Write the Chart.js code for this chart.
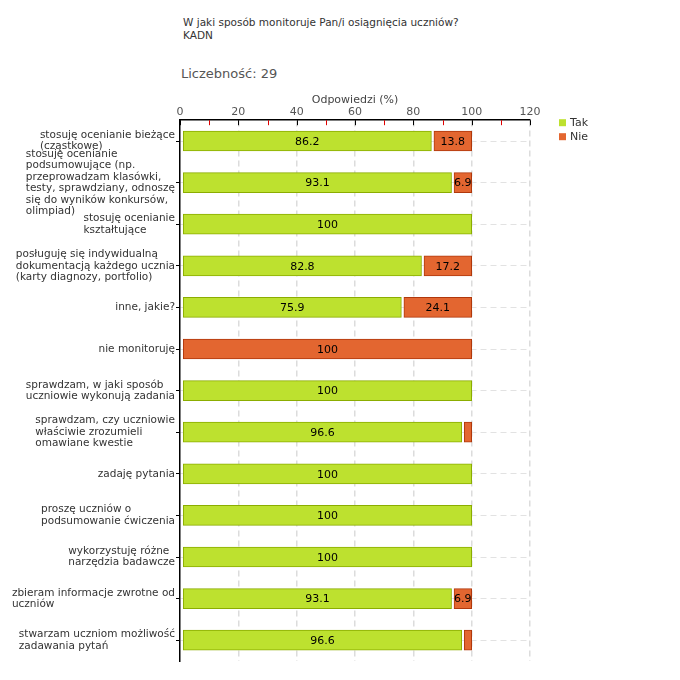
<!DOCTYPE html>
<html lang="pl">
<head>
<meta charset="utf-8">
<title>W jaki sposób monitoruje Pan/i osiągnięcia uczniów?</title>
<script src="https://cdn.jsdelivr.net/npm/chart.js@4/dist/chart.umd.min.js"></script>
<style>
    html, body { margin: 0; padding: 0; background: #fff; }
    #wrap { position: relative; width: 680px; height: 680px; }
    #chart { position: absolute; left: 0; top: 0; }
    .head { position: absolute; left: 183px; font-family: 'DejaVu Sans', sans-serif; color: #333; }
    #title { top: 16px; font-size: 10.5px; line-height: 13px; }
    #count { left: 181px; top: 66px; font-size: 13px; color: #555; }
</style>
</head>
<body>
<div id="wrap">
    <div class="head" id="title">W jaki sposób monitoruje Pan/i osiągnięcia uczniów?<br>KADN</div>
    <div class="head" id="count">Liczebność: 29</div>
    <canvas id="chart" width="680" height="680"></canvas>
</div>
<script>
// --- data ---
const categories = [
    ['stosuję ocenianie bieżące', '(cząstkowe)'],
    ['stosuję ocenianie', 'podsumowujące (np.', 'przeprowadzam klasówki,', 'testy, sprawdziany, odnoszę', 'się do wyników konkursów,', 'olimpiad)'],
    ['stosuję ocenianie', 'kształtujące'],
    ['posługuję się indywidualną', 'dokumentacją każdego ucznia', '(karty diagnozy, portfolio)'],
    ['inne, jakie?'],
    ['nie monitoruję'],
    ['sprawdzam, w jaki sposób', 'uczniowie wykonują zadania'],
    ['sprawdzam, czy uczniowie', 'właściwie zrozumieli', 'omawiane kwestie'],
    ['zadaję pytania'],
    ['proszę uczniów o', 'podsumowanie ćwiczenia'],
    ['wykorzystuję różne', 'narzędzia badawcze'],
    ['zbieram informacje zwrotne od', 'uczniów'],
    ['stwarzam uczniom możliwość', 'zadawania pytań']
];
const takValues = [86.2, 93.1, 100, 82.8, 75.9, 0, 100, 96.6, 100, 100, 100, 93.1, 96.6];
const nieValues = [13.8, 6.9, 0, 17.2, 24.1, 100, 0, 3.4, 0, 0, 0, 6.9, 3.4];
const seriesNames = ['Tak', 'Nie'];
const xTicks = [0, 20, 40, 60, 80, 100, 120];

const FONT = "'DejaVu Sans', sans-serif";

// small gap at the start of every bar, like the original
const barGapPlugin = {
    id: 'barGap',
    afterDatasetsUpdate(chart) {
        chart.data.datasets.forEach((ds, i) => {
            chart.getDatasetMeta(i).data.forEach(el => {
                if (el.x - el.base > 0) el.base += 2.5;
            });
        });
    }
};

// multi-line category labels, left-aligned block placed against the axis
const catLabelPlugin = {
    id: 'catLabels',
    afterDraw(chart) {
        const ctx = chart.ctx;
        const yScale = chart.scales.y;
        const right = yScale.right - 5;
        const lh = 11.5;
        ctx.save();
        ctx.font = '10.5px ' + FONT;
        ctx.fillStyle = '#333';
        ctx.textBaseline = 'middle';
        ctx.textAlign = 'left';
        categories.forEach((lines, i) => {
            const cy = yScale.getPixelForValue(i);
            const w = Math.max(...lines.map(l => ctx.measureText(l).width));
            const x = right - w;
            const y0 = cy - (lines.length - 1) * lh / 2;
            lines.forEach((l, j) => ctx.fillText(l, x, y0 + j * lh));
        });
        ctx.restore();
    }
};

// tick marks on the top axis pointing into the plot (red minor ones)
const xTickPlugin = {
    id: 'xTicks',
    afterDraw(chart) {
        const ctx = chart.ctx;
        const xs = chart.scales.x;
        const top = chart.chartArea.top;
        ctx.save();
        ctx.lineWidth = 1;
        for (let v = xs.min; v <= xs.max; v += 10) {
            const px = Math.round(xs.getPixelForValue(v)) + 0.5;
            ctx.strokeStyle = xTicks.includes(v) ? '#000' : '#e00000';
            ctx.beginPath();
            ctx.moveTo(px, top);
            ctx.lineTo(px, top + 5);
            ctx.stroke();
        }
        ctx.restore();
    }
};

// legend to the right of the plot, top aligned
const legendPlugin = {
    id: 'sideLegend',
    afterDraw(chart) {
        const ctx = chart.ctx;
        const x = chart.chartArea.right + 29;
        const top = chart.chartArea.top + 2;
        ctx.save();
        ctx.font = '11px ' + FONT;
        ctx.textBaseline = 'middle';
        ctx.textAlign = 'left';
        chart.data.datasets.forEach((ds, i) => {
            const cy = top + i * 14;
            ctx.fillStyle = ds.backgroundColor;
            ctx.fillRect(x, cy - 3, 7, 7);
            ctx.fillStyle = '#333';
            ctx.fillText(ds.label, x + 11, cy + 1);
        });
        ctx.restore();
    }
};

// value labels centred in the bars
const valueLabelPlugin = {
    id: 'valueLabels',
    afterDatasetsDraw(chart) {
        const ctx = chart.ctx;
        ctx.save();
        ctx.font = '11px ' + FONT;
        ctx.fillStyle = '#000';
        ctx.textAlign = 'center';
        ctx.textBaseline = 'middle';
        chart.data.datasets.forEach((ds, i) => {
            chart.getDatasetMeta(i).data.forEach((el, j) => {
                const v = ds.data[j];
                if (v < 5) return;
                ctx.fillText(String(v), (el.x + el.base) / 2, el.y + 1);
            });
        });
        ctx.restore();
    }
};

const ctx = document.getElementById('chart').getContext('2d');
new Chart(ctx, {
    type: 'bar',
    data: {
        labels: categories,
        datasets: [{
            label: seriesNames[0],
            data: takValues,
            backgroundColor: '#bde12f',
            borderColor: '#8bad00',
            borderWidth: 1,
            borderSkipped: false,
            barThickness: 20
        }, {
            label: seriesNames[1],
            data: nieValues,
            backgroundColor: '#e36630',
            borderColor: '#b0380c',
            borderWidth: 1,
            borderSkipped: false,
            barThickness: 20
        }]
    },
    plugins: [barGapPlugin, catLabelPlugin, xTickPlugin, legendPlugin, valueLabelPlugin],
    options: {
        indexAxis: 'y',
        responsive: false,
        animation: false,
        layout: {
            padding: { top: 95, left: 0, right: 150, bottom: 19 }
        },
        scales: {
            x: {
                position: 'top',
                stacked: true,
                min: 0,
                max: 120,
                ticks: {
                    stepSize: 10,
                    padding: 1,
                    color: '#555',
                    font: { family: FONT, size: 11 },
                    callback: v => xTicks.includes(v) ? v : ''
                },
                grid: {
                    drawTicks: false,
                    color: c => (c.tick && c.tick.value > 0 && xTicks.includes(c.tick.value)) ? '#dcdcdc' : 'rgba(0,0,0,0)',
                    lineWidth: 1.5
                },
                border: { color: '#000', width: 1.5, dash: [6, 4] },
                title: {
                    display: true,
                    text: 'Odpowiedzi (%)',
                    color: '#444',
                    font: { family: FONT, size: 11, lineHeight: 1 },
                    padding: { top: 0, bottom: -1 }
                }
            },
            y: {
                stacked: true,
                ticks: { display: false },
                grid: {
                    offset: false,
                    color: '#e2e2e2',
                    lineWidth: 1,
                    tickLength: 4,
                    tickColor: '#000'
                },
                border: { color: '#000', width: 1.5, dash: [6, 4] },
                afterFit: scale => { scale.width = 180; }
            }
        },
        plugins: {
            legend: { display: false },
            tooltip: { enabled: false }
        }
    }
});
</script>
</body>
</html>
